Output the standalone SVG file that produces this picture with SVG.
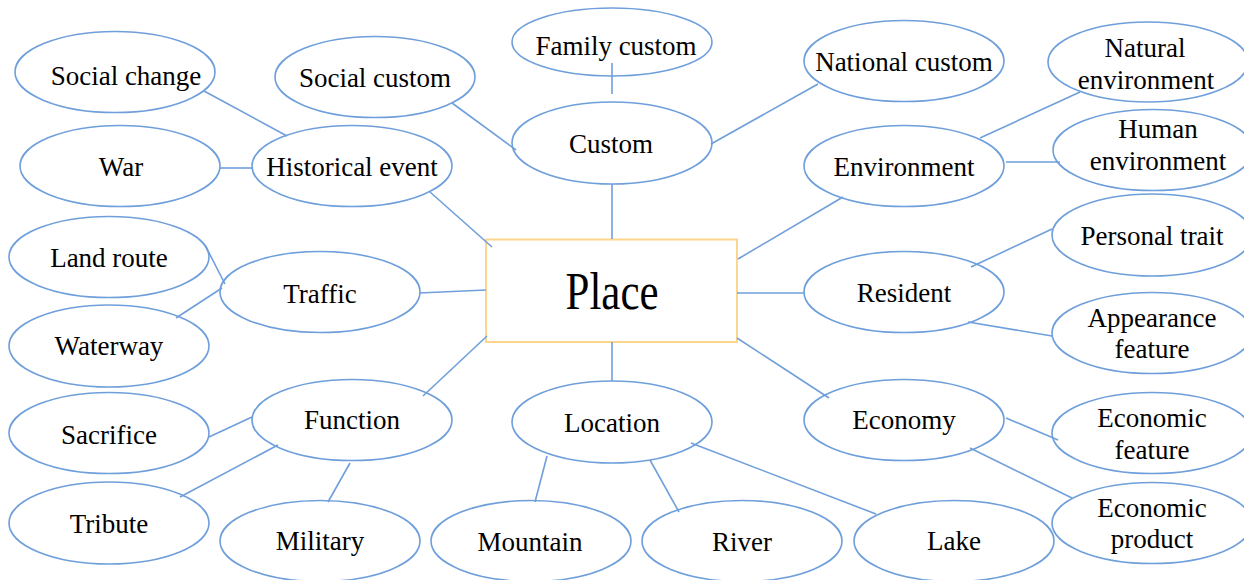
<svg xmlns="http://www.w3.org/2000/svg" width="1244" height="580" viewBox="0 0 1244 580">
  <style>
    .bg { fill: #ffffff; }
    .node ellipse { fill: none; stroke: #6f9fdb; stroke-width: 1.6; }
    .hub rect { fill: #ffffff; stroke: #fcd68c; stroke-width: 2; }
    .links line { stroke: #6f9fdb; stroke-width: 1.6; }
    .lbl { font-size: 27px; fill: #000000; text-anchor: middle; }
    .big { font-size: 52px; }
  </style>

  <rect class="bg" x="0" y="0" width="1244" height="580"/>

  <!-- central node -->
  <g id="place" class="hub" font-family="Times New Roman, Liberation Serif, Times, serif">
    <rect x="486" y="239.5" width="251" height="102.5"/>
    <text class="lbl big" x="612" y="309" textLength="93" lengthAdjust="spacingAndGlyphs">Place</text>
  </g>

  <!-- connectors -->
  <g id="connectors" class="links">
    <line x1="204" y1="91" x2="287" y2="136"/>
    <line x1="220" y1="168" x2="252" y2="168"/>
    <line x1="452" y1="103" x2="516" y2="150"/>
    <line x1="430" y1="192" x2="492" y2="247"/>
    <line x1="205" y1="245" x2="225" y2="284"/>
    <line x1="176" y1="318" x2="222" y2="288"/>
    <line x1="419" y1="293" x2="486" y2="290"/>
    <line x1="612" y1="63" x2="612" y2="94"/>
    <line x1="612" y1="184" x2="612" y2="239"/>
    <line x1="711" y1="144" x2="818" y2="84"/>
    <line x1="980" y1="138" x2="1080" y2="92"/>
    <line x1="1006" y1="162" x2="1060" y2="162"/>
    <line x1="738" y1="259" x2="843" y2="197"/>
    <line x1="737" y1="293" x2="804" y2="293"/>
    <line x1="971" y1="267" x2="1052" y2="229"/>
    <line x1="968" y1="322" x2="1052" y2="336"/>
    <line x1="737" y1="338" x2="829" y2="398"/>
    <line x1="1006" y1="418" x2="1058" y2="440"/>
    <line x1="970" y1="448" x2="1072" y2="498"/>
    <line x1="487" y1="336" x2="423" y2="396"/>
    <line x1="612" y1="342" x2="612" y2="381"/>
    <line x1="209" y1="437" x2="252" y2="417"/>
    <line x1="180" y1="497" x2="278" y2="445"/>
    <line x1="350" y1="463" x2="328" y2="502"/>
    <line x1="547" y1="456" x2="535" y2="502"/>
    <line x1="650" y1="460" x2="679" y2="512"/>
    <line x1="691" y1="443" x2="876" y2="514"/>
  </g>

  <g id="nodes" class="lbl" font-family="Times New Roman, Liberation Serif, Times, serif">
  <!-- first ring -->
  <g id="custom" class="node">
    <ellipse cx="612" cy="143" rx="100" ry="41"/>
    <text x="611" y="153">Custom</text>
  </g>
  <g id="historical-event" class="node">
    <ellipse cx="352" cy="166" rx="100" ry="40.5"/>
    <text x="352" y="176">Historical event</text>
  </g>
  <g id="environment" class="node">
    <ellipse cx="904" cy="166" rx="100" ry="40.5"/>
    <text x="904" y="176">Environment</text>
  </g>
  <g id="traffic" class="node">
    <ellipse cx="320" cy="292" rx="100" ry="40.5"/>
    <text x="320" y="303">Traffic</text>
  </g>
  <g id="resident" class="node">
    <ellipse cx="904" cy="292" rx="100" ry="40.5"/>
    <text x="904" y="302">Resident</text>
  </g>
  <g id="function" class="node">
    <ellipse cx="352" cy="420" rx="100" ry="40.5"/>
    <text x="352" y="429">Function</text>
  </g>
  <g id="location" class="node">
    <ellipse cx="612" cy="422" rx="100" ry="41"/>
    <text x="612" y="432">Location</text>
  </g>
  <g id="economy" class="node">
    <ellipse cx="904" cy="420" rx="100" ry="40.5"/>
    <text x="904" y="429">Economy</text>
  </g>

  <!-- outer ring -->
  <g id="family-custom" class="node">
    <ellipse cx="612" cy="42" rx="100" ry="34"/>
    <text x="616" y="55">Family custom</text>
  </g>
  <g id="social-custom" class="node">
    <ellipse cx="375" cy="77" rx="100" ry="40.5"/>
    <text x="375" y="87">Social custom</text>
  </g>
  <g id="national-custom" class="node">
    <ellipse cx="904" cy="61" rx="100" ry="40.5"/>
    <text x="904" y="71">National custom</text>
  </g>
  <g id="social-change" class="node">
    <ellipse cx="115" cy="72" rx="100" ry="40.5"/>
    <text x="126" y="85">Social change</text>
  </g>
  <g id="war" class="node">
    <ellipse cx="120" cy="166" rx="100" ry="40.5"/>
    <text x="121" y="176">War</text>
  </g>
  <g id="natural-environment" class="node">
    <ellipse cx="1148" cy="62" rx="100" ry="40"/>
    <text x="1145" y="57">Natural</text>
    <text x="1146" y="89">environment</text>
  </g>
  <g id="human-environment" class="node">
    <ellipse cx="1153" cy="150" rx="100" ry="40.5"/>
    <text x="1158" y="138">Human</text>
    <text x="1158" y="170">environment</text>
  </g>
  <g id="land-route" class="node">
    <ellipse cx="109" cy="257" rx="100" ry="40.5"/>
    <text x="109" y="267">Land route</text>
  </g>
  <g id="waterway" class="node">
    <ellipse cx="109" cy="346" rx="100" ry="41"/>
    <text x="109" y="355">Waterway</text>
  </g>
  <g id="personal-trait" class="node">
    <ellipse cx="1152" cy="235" rx="100" ry="41"/>
    <text x="1152" y="245">Personal trait</text>
  </g>
  <g id="appearance-feature" class="node">
    <ellipse cx="1152" cy="333" rx="100" ry="40.5"/>
    <text x="1152" y="327">Appearance</text>
    <text x="1152" y="358">feature</text>
  </g>
  <g id="sacrifice" class="node">
    <ellipse cx="109" cy="433" rx="100" ry="40.5"/>
    <text x="109" y="444">Sacrifice</text>
  </g>
  <g id="economic-feature" class="node">
    <ellipse cx="1152" cy="433" rx="100" ry="40.5"/>
    <text x="1152" y="427">Economic</text>
    <text x="1152" y="459">feature</text>
  </g>
  <g id="tribute" class="node">
    <ellipse cx="109" cy="523" rx="100" ry="41"/>
    <text x="109" y="533">Tribute</text>
  </g>
  <g id="economic-product" class="node">
    <ellipse cx="1152" cy="523" rx="100" ry="40.5"/>
    <text x="1152" y="517">Economic</text>
    <text x="1152" y="548">product</text>
  </g>
  <g id="military" class="node">
    <ellipse cx="320" cy="541" rx="100" ry="40.5"/>
    <text x="320" y="550">Military</text>
  </g>
  <g id="mountain" class="node">
    <ellipse cx="531" cy="541" rx="100" ry="40.5"/>
    <text x="530" y="551">Mountain</text>
  </g>
  <g id="river" class="node">
    <ellipse cx="742" cy="541" rx="100" ry="40.5"/>
    <text x="742" y="551">River</text>
  </g>
  <g id="lake" class="node">
    <ellipse cx="954" cy="541" rx="100" ry="40.5"/>
    <text x="954" y="550">Lake</text>
  </g>
  </g>
</svg>
